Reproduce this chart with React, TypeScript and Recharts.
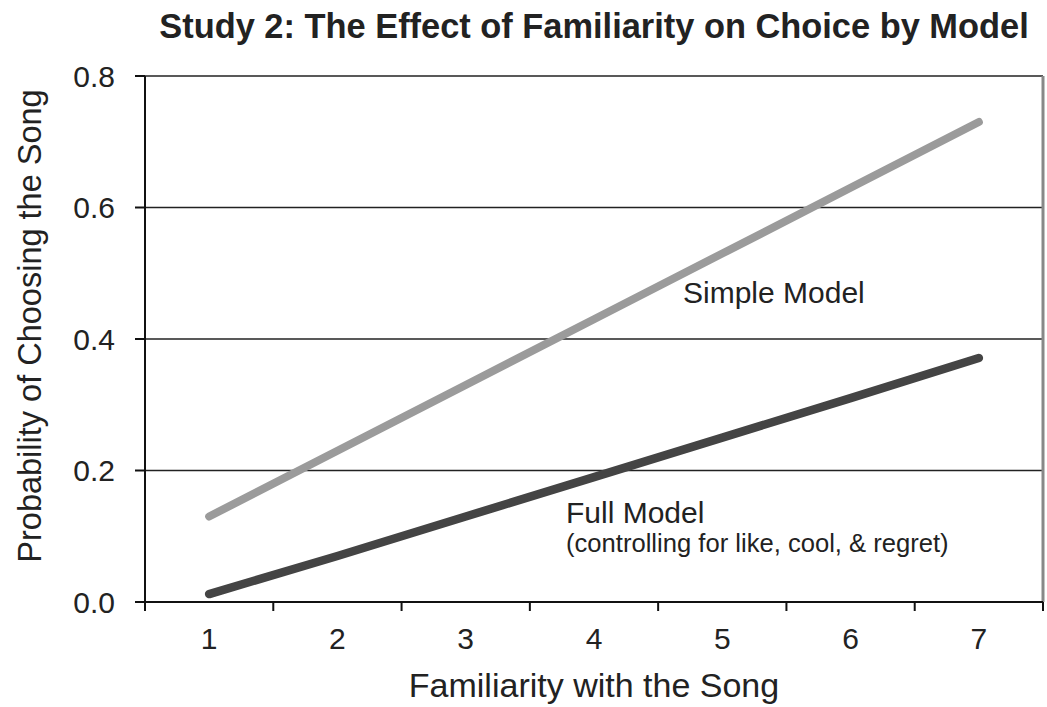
import { LineChart, Line, XAxis, YAxis, CartesianGrid, ReferenceLine } from "recharts";

const familiarity = [1, 2, 3, 4, 5, 6, 7];
const simpleModel = [0.13, 0.23, 0.33, 0.43, 0.53, 0.63, 0.73];
const fullModel = [0.012, 0.07, 0.13, 0.19, 0.25, 0.31, 0.371];
const yTicks = [0, 0.2, 0.4, 0.6, 0.8];
const boundaryTicks = [0.5, 1.5, 2.5, 3.5, 4.5, 5.5, 6.5, 7.5];
const xTicks = [...boundaryTicks, ...familiarity].sort((a, b) => a - b);

const data = familiarity.map((f, i) => ({
  familiarity: f,
  simple: simpleModel[i],
  full: fullModel[i],
}));

const font = "'Liberation Sans', Arial, Helvetica, sans-serif";
const ink = "#222";

// integer ticks get a label, half ticks get a tick mark between categories
function XTick(props: any) {
  const { x, y, payload } = props;
  if (Number.isInteger(payload.value)) {
    return (
      <text x={x} y={y + 26} dy="0.71em" textAnchor="middle" fill={ink} fontSize={30} fontFamily={font}>
        {payload.value}
      </text>
    );
  }
  return <line x1={x} x2={x} y1={y} y2={y + 9} stroke="#111" strokeWidth={2} />;
}

export default function App() {
  return (
    <div style={{ position: "absolute", left: 0, top: 0, width: 1047, height: 707, fontFamily: font, background: "#fff" }}>
      <div
        style={{
          position: "absolute", left: 145, top: 9, width: 898, textAlign: "center",
          fontSize: 34.4, lineHeight: "34px", fontWeight: "bold", color: ink, whiteSpace: "nowrap",
        }}
      >
        Study 2: The Effect of Familiarity on Choice by Model
      </div>

      <LineChart width={1047} height={707} data={data} margin={{ top: 76, right: 4, left: 0, bottom: 0 }}>
        <CartesianGrid vertical={false} stroke={ink} strokeWidth={1.6} />
        <XAxis
          dataKey="familiarity" type="number" domain={[0.5, 7.5]} ticks={xTicks} interval={0}
          height={105} axisLine={{ stroke: "#111", strokeWidth: 2 }} tickLine={false} tickSize={0} tickMargin={0}
          tick={<XTick />}
          label={{ value: "Familiarity with the Song", position: "insideBottom", offset: 10, fill: ink, fontSize: 34, fontFamily: font }}
        />
        <YAxis
          type="number" domain={[0, 0.8]} ticks={yTicks} width={145}
          tickFormatter={(v: number) => v.toFixed(1)}
          tickSize={10} tickMargin={20}
          axisLine={{ stroke: "#111", strokeWidth: 2 }} tickLine={{ stroke: "#111", strokeWidth: 2 }}
          tick={{ fill: ink, fontSize: 30, fontFamily: font }}
          label={{
            content: (props: any) => {
              const vb = props.viewBox;
              const cx = vb.x + 30;
              const cy = vb.y + vb.height / 2 - 13;
              return (
                <text x={cx} y={cy} transform={`rotate(-90, ${cx}, ${cy})`} textAnchor="middle"
                  dominantBaseline="central" fill={ink} fontSize={32.5} fontFamily={font}>
                  Probability of Choosing the Song
                </text>
              );
            },
          }}
        />
        <ReferenceLine x={7.5} stroke="#888" strokeWidth={3} />
        <Line type="linear" dataKey="simple" stroke="#9b9b9b" strokeWidth={8} strokeLinecap="round"
          dot={false} activeDot={false} isAnimationActive={false} />
        <Line type="linear" dataKey="full" stroke="#444" strokeWidth={8.5} strokeLinecap="round"
          dot={false} activeDot={false} isAnimationActive={false} />
      </LineChart>

      <div style={{ position: "absolute", left: 683, top: 278, fontSize: 30, lineHeight: "30px", color: ink, whiteSpace: "nowrap" }}>
        Simple Model
      </div>
      <div style={{ position: "absolute", left: 566, top: 498, fontSize: 30, lineHeight: "30px", color: ink, whiteSpace: "nowrap" }}>
        Full Model
      </div>
      <div style={{ position: "absolute", left: 566, top: 530, fontSize: 25.6, lineHeight: "26px", color: ink, whiteSpace: "nowrap" }}>
        (controlling for like, cool, &amp; regret)
      </div>
    </div>
  );
}
